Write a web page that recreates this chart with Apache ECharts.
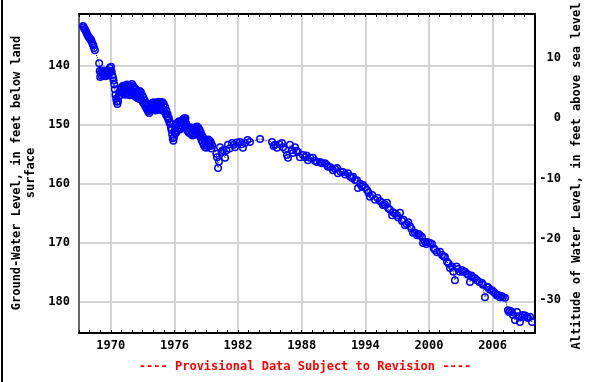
<!DOCTYPE html>
<html>
<head>
<meta charset="utf-8">
<title>Ground-water level</title>
<script src="https://cdn.jsdelivr.net/npm/echarts@6/dist/echarts.min.js"></script>
<style>
  html, body { margin: 0; padding: 0; background: #fff; }
  #chart { width: 590px; height: 382px; }
</style>
</head>
<body>
<div id="chart"></div>
<script>
// Tick positions
const yearTicks = [1970, 1976, 1982, 1988, 1994, 2000, 2006];
const depthTicks = [140, 150, 160, 170, 180];
const altitudeTicks = [10, 0, -10, -20, -30];

// Depth to water, feet below land surface: [decimal year, depth]
const record1967 = [
  [1967.38, 133.3], [1967.45, 133.5], [1967.52, 133.8], [1967.60, 134.0], [1967.68, 134.3],
  [1967.75, 134.6], [1967.83, 134.9], [1967.90, 135.1], [1967.97, 135.3], [1968.05, 135.5],
  [1968.13, 135.6], [1968.20, 135.9], [1968.27, 136.3], [1968.35, 136.6], [1968.42, 137.0],
  [1968.50, 137.4]
];

const record1969 = [
  [1968.90, 139.6], [1968.95, 140.9], [1969.00, 141.9], [1969.06, 141.2], [1969.12, 141.7],
  [1969.18, 140.9], [1969.24, 141.5], [1969.30, 140.8], [1969.36, 141.6], [1969.42, 141.0],
  [1969.48, 141.8], [1969.54, 141.2], [1969.60, 141.7], [1969.66, 140.9], [1969.72, 141.5],
  [1969.78, 140.8], [1969.84, 141.3], [1969.90, 140.4], [1969.96, 140.9], [1970.02, 140.2],
  [1970.08, 141.0], [1970.14, 141.6], [1970.20, 142.0], [1970.26, 142.5], [1970.32, 143.2],
  [1970.38, 144.0], [1970.44, 144.9], [1970.50, 145.6], [1970.56, 146.1], [1970.62, 146.5],
  [1970.68, 146.0], [1970.74, 145.2], [1970.80, 144.5], [1970.86, 145.0], [1970.92, 144.0],
  [1970.98, 144.6], [1971.04, 143.6], [1971.10, 144.4], [1971.16, 143.4], [1971.22, 144.5],
  [1971.28, 143.5], [1971.34, 144.9], [1971.40, 143.6], [1971.46, 144.8], [1971.52, 143.2],
  [1971.58, 144.6], [1971.64, 143.3], [1971.70, 144.9], [1971.76, 143.5], [1971.82, 145.0],
  [1971.88, 143.4], [1971.94, 144.6], [1972.00, 143.1], [1972.06, 144.5], [1972.12, 143.5],
  [1972.18, 145.0], [1972.24, 143.8], [1972.30, 145.2], [1972.36, 144.0], [1972.42, 145.3],
  [1972.48, 144.3], [1972.54, 145.5], [1972.60, 144.4], [1972.66, 145.6], [1972.72, 144.3],
  [1972.78, 145.4], [1972.84, 144.5], [1972.90, 145.8], [1972.96, 145.0], [1973.02, 146.2],
  [1973.08, 145.4], [1973.14, 146.5], [1973.20, 145.9], [1973.26, 146.9], [1973.32, 146.3],
  [1973.38, 147.3], [1973.44, 146.8], [1973.50, 147.7], [1973.56, 147.3], [1973.62, 148.0],
  [1973.68, 147.6], [1973.74, 147.2], [1973.80, 146.6], [1973.86, 147.4], [1973.92, 146.3],
  [1973.98, 147.3], [1974.04, 146.2], [1974.10, 147.5], [1974.16, 146.4], [1974.22, 147.6],
  [1974.28, 146.3], [1974.34, 147.4], [1974.40, 146.2], [1974.46, 147.2], [1974.52, 146.1],
  [1974.58, 147.4], [1974.64, 146.3], [1974.70, 147.5], [1974.76, 146.2], [1974.82, 147.3],
  [1974.88, 146.2], [1974.94, 147.6], [1975.00, 146.5], [1975.06, 147.8], [1975.12, 147.0],
  [1975.18, 148.2], [1975.24, 147.6], [1975.30, 148.6], [1975.36, 148.2], [1975.42, 149.1],
  [1975.48, 148.9], [1975.54, 149.7], [1975.60, 149.6], [1975.66, 150.4], [1975.72, 150.9],
  [1975.78, 151.6], [1975.84, 152.3], [1975.90, 152.7], [1975.96, 152.1], [1976.02, 151.2],
  [1976.08, 150.6], [1976.14, 151.4], [1976.20, 150.0], [1976.26, 151.0], [1976.32, 149.6],
  [1976.38, 150.6], [1976.44, 149.4], [1976.50, 150.8], [1976.56, 149.6], [1976.62, 150.6],
  [1976.68, 149.3], [1976.74, 150.2], [1976.80, 149.1], [1976.86, 149.7], [1976.92, 148.9],
  [1976.98, 149.3], [1977.04, 148.9], [1977.10, 149.8], [1977.16, 150.3], [1977.22, 151.0],
  [1977.28, 150.4], [1977.34, 151.3], [1977.40, 150.5], [1977.46, 151.4], [1977.52, 150.4],
  [1977.58, 151.6], [1977.64, 150.7], [1977.70, 151.8], [1977.76, 150.9], [1977.82, 151.7],
  [1977.88, 150.6], [1977.94, 151.5], [1978.00, 150.4], [1978.06, 151.3], [1978.12, 150.3],
  [1978.18, 151.2], [1978.24, 150.5], [1978.30, 151.6], [1978.36, 150.8], [1978.42, 152.0],
  [1978.48, 151.3], [1978.54, 152.6], [1978.60, 151.8], [1978.66, 153.0], [1978.72, 152.2],
  [1978.78, 153.5], [1978.84, 152.6], [1978.90, 153.8], [1978.96, 153.0], [1979.02, 153.9],
  [1979.08, 152.8], [1979.14, 153.6], [1979.20, 152.5], [1979.26, 153.4], [1979.32, 152.7],
  [1979.38, 153.6], [1979.44, 153.0], [1979.50, 154.0], [1979.56, 153.5]
];

const record1980 = [
  [1979.95, 154.9], [1980.01, 155.5], [1980.11, 157.3], [1980.20, 156.2], [1980.30, 153.8],
  [1980.45, 154.6], [1980.58, 154.3], [1980.77, 155.6], [1980.90, 154.3], [1981.05, 153.4],
  [1981.20, 154.0], [1981.43, 153.1], [1981.60, 153.4], [1981.71, 153.8], [1981.90, 153.0],
  [1982.18, 152.9], [1982.35, 153.3], [1982.46, 153.9], [1982.65, 153.1], [1982.90, 152.6],
  [1983.12, 152.9], [1984.07, 152.4], [1985.20, 152.9], [1985.35, 153.6], [1985.48, 153.4],
  [1985.67, 153.9], [1985.90, 153.3], [1986.14, 153.1], [1986.24, 153.8], [1986.45, 154.2],
  [1986.61, 155.1], [1986.71, 155.6], [1986.89, 153.4], [1987.08, 154.3], [1987.18, 154.8],
  [1987.37, 153.8], [1987.50, 154.4], [1987.65, 154.6], [1987.84, 155.5], [1988.12, 155.1],
  [1988.31, 155.5], [1988.45, 155.2], [1988.59, 156.0], [1988.80, 155.6], [1989.06, 155.6],
  [1989.25, 156.1], [1989.44, 156.3], [1989.72, 156.3], [1989.91, 156.5], [1990.19, 156.5],
  [1990.38, 156.8], [1990.48, 157.1], [1990.70, 157.2], [1990.95, 157.7], [1991.15, 157.5],
  [1991.33, 157.3], [1991.42, 158.2], [1991.65, 157.9], [1991.89, 158.0], [1992.10, 158.4],
  [1992.36, 158.2], [1992.55, 158.7], [1992.74, 159.0], [1992.84, 158.8], [1993.02, 159.35],
  [1993.21, 159.4], [1993.31, 160.7], [1993.50, 160.0], [1993.68, 160.5], [1993.78, 160.2],
  [1993.97, 160.6], [1994.16, 161.05], [1994.30, 161.5], [1994.44, 162.2], [1994.65, 161.9],
  [1994.91, 162.7], [1995.15, 162.4], [1995.38, 162.9], [1995.57, 163.2], [1995.66, 163.6],
  [1995.85, 163.5], [1996.04, 163.2], [1996.14, 164.1], [1996.32, 164.4], [1996.52, 165.3],
  [1996.61, 164.8], [1996.80, 165.0], [1996.98, 165.3], [1997.10, 165.7], [1997.27, 164.9],
  [1997.46, 166.3], [1997.60, 166.1], [1997.74, 167.0], [1997.90, 166.8], [1998.05, 166.5],
  [1998.21, 167.2], [1998.35, 167.6], [1998.49, 168.3], [1998.68, 168.3], [1998.87, 168.7],
  [1999.00, 168.5], [1999.15, 168.7], [1999.34, 169.0], [1999.44, 170.0], [1999.62, 169.8],
  [1999.75, 170.2], [1999.91, 169.9], [2000.10, 170.0], [2000.28, 170.2], [2000.45, 170.9],
  [2000.57, 171.2], [2000.76, 171.6], [2001.04, 171.5], [2001.23, 172.05], [2001.40, 172.3],
  [2001.51, 172.4], [2001.70, 173.2], [2001.85, 173.5], [2001.98, 174.25], [2002.17, 174.0],
  [2002.30, 174.9], [2002.45, 176.3], [2002.60, 174.0], [2002.74, 174.4], [2002.92, 174.9],
  [2003.11, 174.6], [2003.21, 174.9], [2003.40, 174.9], [2003.58, 175.2], [2003.68, 175.4],
  [2003.87, 176.6], [2004.00, 175.5], [2004.15, 175.8], [2004.34, 176.0], [2004.53, 176.3],
  [2004.75, 176.6], [2005.00, 176.8], [2005.09, 177.1], [2005.28, 179.2], [2005.47, 177.4],
  [2005.57, 177.5], [2005.75, 177.9], [2005.94, 178.0], [2006.10, 178.3], [2006.23, 178.5],
  [2006.40, 178.9], [2006.51, 178.8], [2006.70, 179.2], [2006.85, 179.0], [2006.98, 179.2],
  [2007.17, 179.3], [2007.45, 181.4], [2007.55, 181.7], [2007.65, 181.5], [2007.83, 181.7],
  [2007.92, 182.2], [2008.11, 183.05], [2008.30, 181.7], [2008.45, 182.4], [2008.58, 183.4],
  [2008.77, 182.6], [2008.86, 182.2], [2009.05, 182.3], [2009.24, 182.5], [2009.34, 182.7],
  [2009.53, 182.5], [2009.72, 183.4]
];

const waterLevels = record1967.concat(record1969, record1980);

const FONT = '"DejaVu Sans Mono", "Liberation Mono", monospace';
const labelStyle = { color: '#000', fontFamily: FONT, fontWeight: 'bold', fontSize: 12 };

function onList(list) {
  return function (v) {
    return list.some(t => Math.abs(t - v) < 1e-6) ? String(v) : '';
  };
}

const chart = echarts.init(document.getElementById('chart'), null, { renderer: 'canvas' });

const gridLines = yearTicks.map(y => ({ xAxis: y })).concat(depthTicks.map(d => ({ yAxis: d })));

chart.setOption({
  animation: false,
  backgroundColor: '#fff',
  grid: {
    left: 79, top: 14, right: 55, bottom: 49,
    containLabel: false, outerBoundsMode: 'none', show: false
  },
  xAxis: [
    {
      type: 'value', position: 'bottom', min: 1967, max: 2010, interval: 1,
      axisLine: { show: true, onZero: false, lineStyle: { color: '#000', width: 2 } },
      axisTick: { show: true, inside: true, length: 3, lineStyle: { color: '#000', width: 1 } },
      axisLabel: Object.assign({ margin: 7, formatter: onList(yearTicks) }, labelStyle),
      splitLine: { show: false }
    },
    {
      type: 'value', position: 'top', min: 1967, max: 2010, interval: 1,
      axisLine: { show: true, onZero: false, lineStyle: { color: '#000', width: 2 } },
      axisTick: { show: true, inside: true, length: 3, lineStyle: { color: '#000', width: 1 } },
      axisLabel: { show: false },
      splitLine: { show: false }
    }
  ],
  yAxis: [
    {
      type: 'value', position: 'left', inverse: true, min: 131.25, max: 185.25, interval: 0.25,
      axisLine: { show: true, onZero: false, lineStyle: { color: '#666', width: 2 } },
      axisTick: { show: false },
      axisLabel: Object.assign({ margin: 9, formatter: onList(depthTicks) }, labelStyle),
      splitLine: { show: false }
    },
    {
      type: 'value', position: 'right', min: -35.5, max: 17.25, interval: 0.25,
      axisLine: { show: true, onZero: false, lineStyle: { color: '#000', width: 2 } },
      axisTick: { show: false },
      axisLabel: Object.assign({ margin: 26, align: 'right', formatter: onList(altitudeTicks) }, labelStyle),
      splitLine: { show: false }
    }
  ],
  series: [
    {
      // plot grid, drawn beneath the measurements
      type: 'line', xAxisIndex: 0, yAxisIndex: 0, z: 0,
      data: [[1967, 131.25]],
      symbol: 'none',
      lineStyle: { width: 0 },
      silent: true,
      markLine: {
        silent: true, z: 0, symbol: ['none', 'none'], animation: false,
        label: { show: false },
        lineStyle: { color: '#d4d4d4', width: 2, type: 'solid' },
        emphasis: { disabled: true },
        data: gridLines
      }
    },
    {
      name: 'Water level',
      type: 'line', xAxisIndex: 0, yAxisIndex: 0, z: 3,
      data: waterLevels,
      showAllSymbol: true,
      symbol: 'circle', symbolSize: 6.5,
      itemStyle: { color: 'rgba(0,0,0,0)', borderColor: '#0000ff', borderWidth: 1.5 },
      lineStyle: { color: '#000', width: 1, type: 'dotted' },
      emphasis: { disabled: true },
      silent: true
    }
  ],
  graphic: [
    { type: 'rect', left: 1, top: 0, shape: { width: 2, height: 382 }, style: { fill: '#000' } },
    {
      type: 'text', x: 23.5, y: 173, rotation: Math.PI / 2,
      style: {
        text: 'Ground-Water Level, in feet below land\nsurface',
        font: 'bold 12px ' + FONT, fill: '#000', align: 'center', verticalAlign: 'middle', lineHeight: 14
      }
    },
    {
      type: 'text', x: 577, y: 176, rotation: Math.PI / 2,
      style: {
        text: 'Altitude of Water Level, in feet above sea level',
        font: 'bold 12px ' + FONT, fill: '#000', align: 'center', verticalAlign: 'middle'
      }
    },
    {
      type: 'text', x: 305, y: 367,
      style: {
        text: '---- Provisional Data Subject to Revision ----',
        font: 'bold 12px ' + FONT, fill: '#ff0000', align: 'center', verticalAlign: 'middle'
      }
    }
  ]
});
</script>
</body>
</html>
